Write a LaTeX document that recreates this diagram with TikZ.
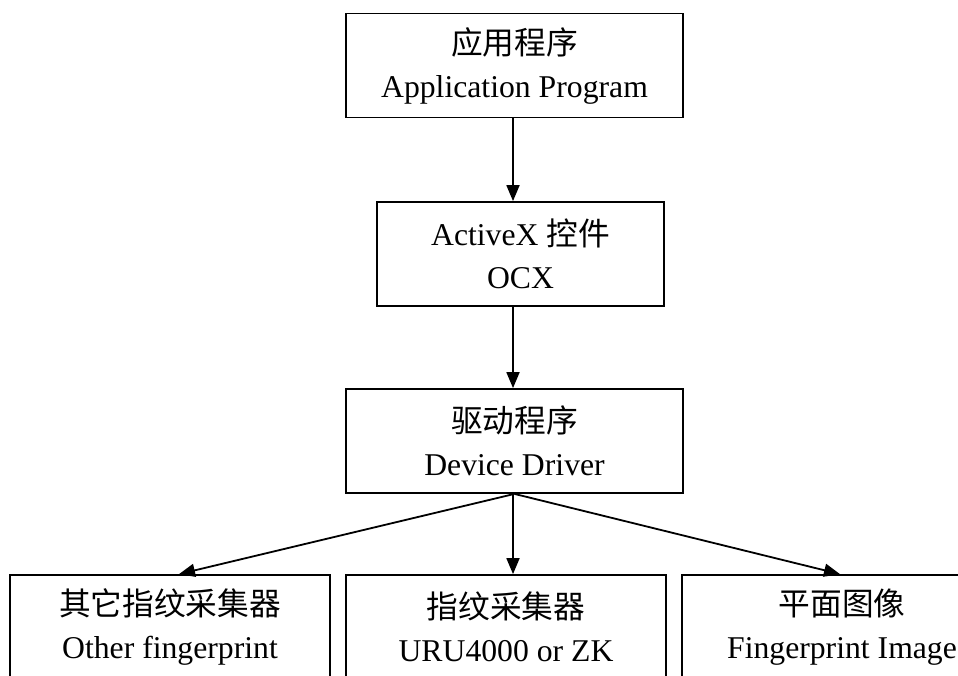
\documentclass[tikz,border=0pt]{standalone}
\usepackage{fontspec}
\setmainfont{Liberation Serif}
\newfontfamily\cjk{Noto Sans CJK SC}
\usetikzlibrary{arrows.meta}

\tikzset{
  layer/.style={draw, line width=1.8pt, rectangle, inner sep=0pt, align=center,
    minimum height=104pt, font=\fontsize{31.7}{43}\selectfont},
  flow/.style={line width=1.8pt, -{Triangle[length=16pt,width=13pt]}}
}

\begin{document}
\begin{tikzpicture}[x=1pt,y=-1pt]
  \clip (0,0) rectangle (958,675);

  \node[layer, minimum width=337pt] (app) at (514.5,65.5)
    {{\cjk 应用程序}\\Application Program};
  \node[layer, minimum width=287pt] (ocx) at (520.5,254)
    {ActiveX {\cjk 控件}\\OCX};
  \node[layer, minimum width=337pt] (drv) at (514.5,441)
    {{\cjk 驱动程序}\\Device Driver};

  \node[layer, minimum width=320pt] (other) at (170,627)
    {{\cjk 其它指纹采集器}\\Other fingerprint};
  \node[layer, minimum width=320pt] (uru) at (506,627)
    {{\cjk 指纹采集器}\\URU4000 or ZK};
  \node[layer, minimum width=320pt] (img) at (842,627)
    {{\cjk 平面图像}\\Fingerprint Image};

  \draw[flow] ([xshift=-1.5pt]app.south) -- ([xshift=-1.5pt]app.south |- ocx.north);
  \draw[flow] ([xshift=-1.5pt]app.south |- ocx.south) -- ([xshift=-1.5pt]drv.north);
  \draw[flow] (drv.south) -- ([xshift=9pt]other.north);
  \draw[flow] ([xshift=-1.5pt]drv.south) -- ([xshift=-1.5pt]drv.south |- uru.north);
  \draw[flow] (drv.south) -- ([xshift=-2pt]img.north);
\end{tikzpicture}
\end{document}
